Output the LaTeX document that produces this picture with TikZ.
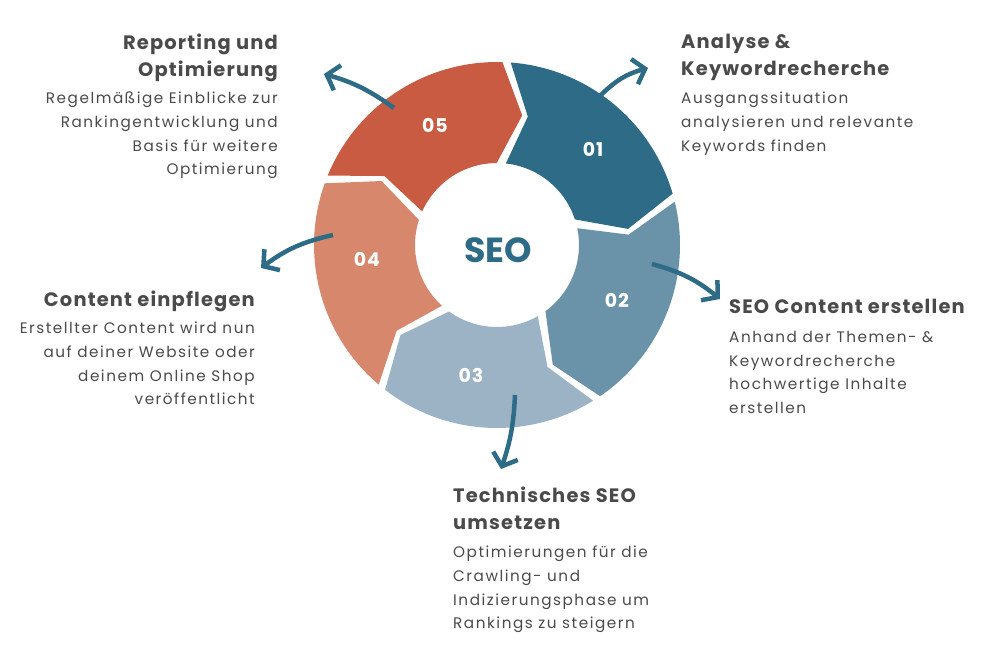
\documentclass[tikz,border=0pt]{standalone}
\usepackage{fontspec}
\setmainfont{Poppins}
\usetikzlibrary{arrows.meta}
\definecolor{cA}{HTML}{2E6B87}
\definecolor{cB}{HTML}{6A92A8}
\definecolor{cC}{HTML}{9BB3C4}
\definecolor{cD}{HTML}{D6876C}
\definecolor{cE}{HTML}{C85B41}
\definecolor{txt}{HTML}{4A4A4A}
\tikzset{
  ttl/.style={text=txt,font=\fontsize{19.5}{27}\selectfont\bfseries\addfontfeature{LetterSpace=6},inner sep=0pt},
  bdy/.style={text=txt,font=\fontsize{15.3}{23.7}\selectfont\addfontfeature{LetterSpace=10},inner sep=0pt},
  num/.style={text=white,font=\fontsize{19}{20}\selectfont\bfseries\addfontfeature{LetterSpace=5}},
  conn/.style={draw=cA,line width=4.5bp,-{Straight Barb[length=11bp,width=26bp,line width=4.5bp]}}
}
\newcommand{\ringseg}[3]{% start angle, end angle, colour
  \fill[#3] plot[domain={#1-1.3}:{#2+1.3},samples=40] ({497+183*cos(\x)},{245-183*sin(\x)})
   -- ({497+132*cos(#2-8)},{245-132*sin(#2-8)})
   -- plot[domain={#2+3.2}:{#1-3.2},samples=30] ({497+82*cos(\x)},{245-82*sin(\x)})
   -- ({497+132*cos(#1-10.5)},{245-132*sin(#1-10.5)}) -- cycle;}
\begin{document}
\begin{tikzpicture}[x=1bp,y=-1bp]
\useasboundingbox (0,0) rectangle (1000,664);
\ringseg{87}{15}{cA}
\ringseg{15}{-57}{cB}
\ringseg{-57}{-129}{cC}
\ringseg{-129}{-201}{cD}
\ringseg{159}{87}{cE}
\node[text=cA,font=\fontsize{35}{38}\selectfont\bfseries] (seo) at (498,250) {SEO};
\node[num] (n1) at (593,149) {01};
\node[num] (n2) at (617,300) {02};
\node[num] (n3) at (471,375) {03};
\node[num] (n4) at (367,259) {04};
\node[num] (n5) at (435,125) {05};
% connectors
\coordinate (a1s) at (600,96); \coordinate (a1e) at (648,68);
\coordinate (a2s) at (652,264); \coordinate (a2e) at (720,299);
\coordinate (a3s) at (515,395); \coordinate (a3e) at (501,469);
\coordinate (a4s) at (333,235); \coordinate (a4e) at (261,268);
\coordinate (a5s) at (394,108); \coordinate (a5e) at (324,74);
\draw[conn] (a1s) to[bend left=15] (a1e);
\draw[conn] (a2s) to[bend left=12] (a2e);
\draw[conn] (a3s) to[bend left=8] (a3e);
\draw[conn] (a4s) to[bend right=12] (a4e);
\draw[conn] (a5s) to[bend right=10] (a5e);
% texts
\node[ttl,anchor=north east,align=right] (t5) at (278,34) {Reporting und\\Optimierung};
\node[bdy,anchor=north east,align=right] (b5) at (278,92) {Regelmäßige Einblicke zur\\Rankingentwicklung und\\Basis für weitere\\Optimierung};
\node[ttl,anchor=north west,align=left] (t1) at (681,34) {Analyse \&\\Keywordrecherche};
\node[bdy,anchor=north west,align=left] (b1) at (681,92) {Ausgangssituation\\analysieren und relevante\\Keywords finden};
\node[ttl,anchor=north east,align=right] (t4) at (255,291) {Content einpflegen};
\node[bdy,anchor=north east,align=right] (b4) at (255,322) {Erstellter Content wird nun\\auf deiner Website oder\\deinem Online Shop\\veröffentlicht};
\node[ttl,anchor=north west,align=left] (t2) at (729,299) {SEO Content erstellen};
\node[bdy,anchor=north west,align=left] (b2) at (729,331) {Anhand der Themen- \&\\Keywordrecherche\\hochwertige Inhalte\\erstellen};
\node[ttl,anchor=north west,align=left] (t3) at (453,487) {Technisches SEO\\umsetzen};
\node[bdy,anchor=north west,align=left] (b3) at (453,546) {Optimierungen für die\\Crawling- und\\Indizierungsphase um\\Rankings zu steigern};
\end{tikzpicture}
\end{document}
